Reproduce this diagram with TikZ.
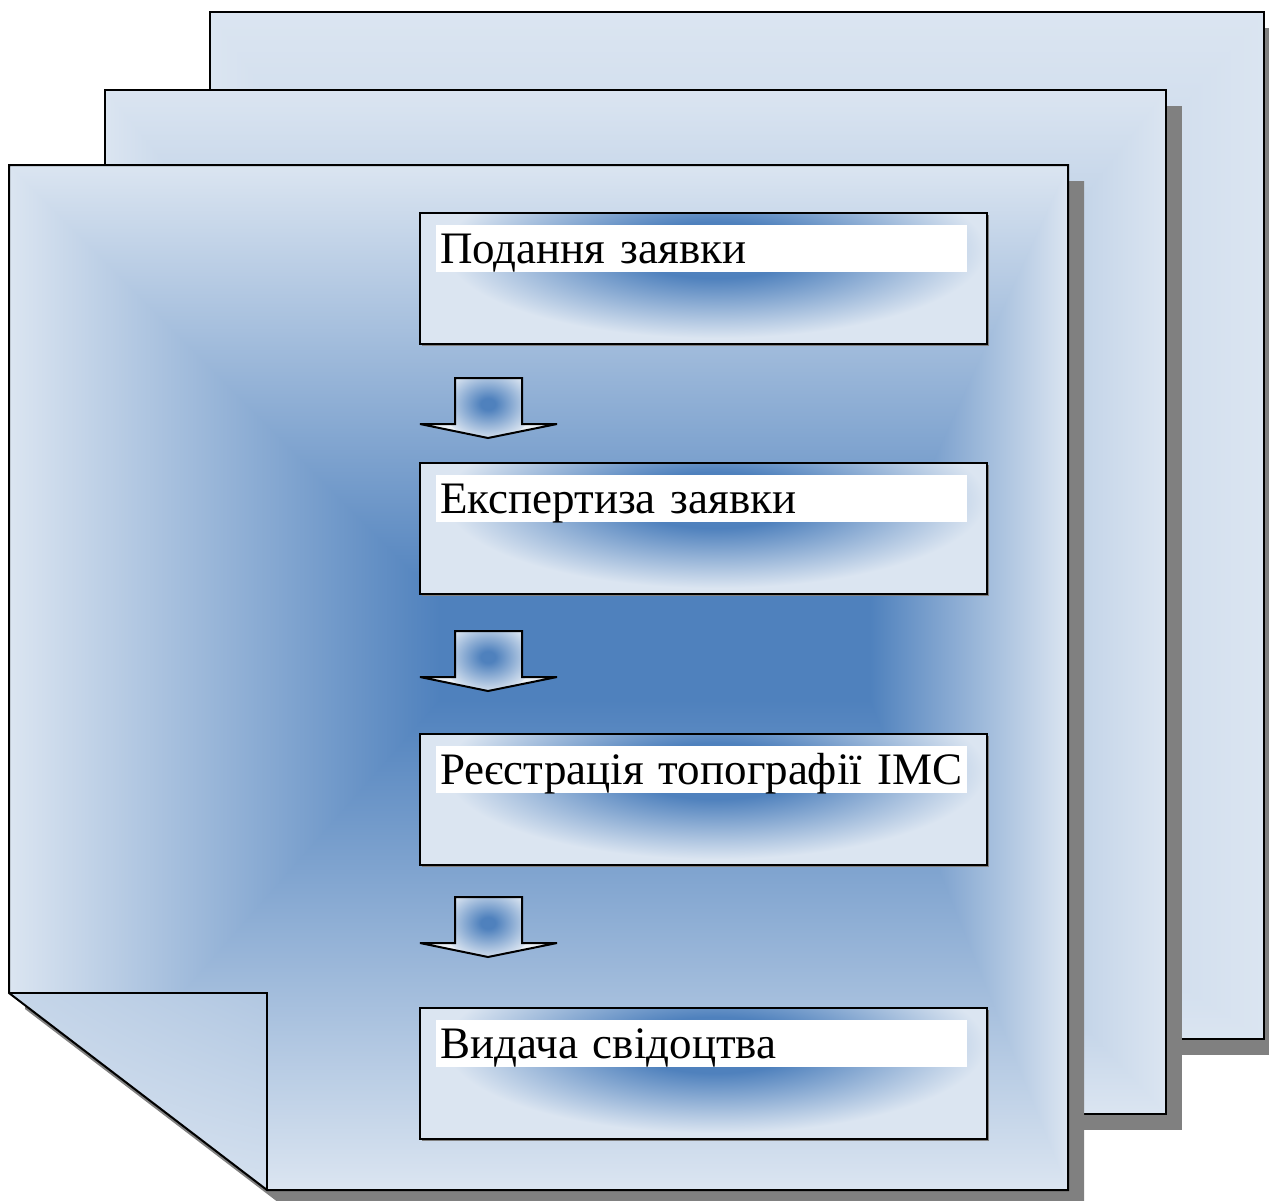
\documentclass[tikz,border=0pt]{standalone}
\usepackage{fontspec}
\setmainfont{Liberation Serif}
\usetikzlibrary{calc,shadings}
\definecolor{lt}{RGB}{219,229,241}
\definecolor{dk}{RGB}{79,129,189}
\definecolor{shd}{RGB}{128,128,128}
\pgfdeclareradialshading{boxglow}{\pgfpoint{0bp}{0bp}}{color(0bp)=(dk); color(8bp)=(dk); color(25bp)=(lt); color(50bp)=(lt)}
\pgfdeclareradialshading{arrowglow}{\pgfpoint{0bp}{0bp}}{color(0bp)=(dk); color(4bp)=(dk); color(25bp)=(lt); color(50bp)=(lt)}
% pyramid (rectangular) gradient: outer tl, outer br, inner tl, inner br, dark colour
\newcommand{\pyramidfill}[9]{%
  \fill[#9] (#5,#6) rectangle (#7,#8);
  \shade[left color=lt,middle color=lt!62!#9,right color=#9] (#1,#2) rectangle (#5,#4);
  \shade[left color=#9,middle color=lt!62!#9,right color=lt] (#7,#2) rectangle (#3,#4);
  \shade[top color=lt,middle color=lt!58!#9,bottom color=#9] (#1,#2) -- (#3,#2) -- (#7,#6) -- (#5,#6) -- cycle;
  \shade[top color=#9,middle color=lt!58!#9,bottom color=lt] (#1,#4) -- (#3,#4) -- (#7,#8) -- (#5,#8) -- cycle;
}
\newcommand{\blockarrowpath}[1]{(455,#1) -- (522,#1) -- (522,#1+46) -- (557,#1+46) -- (488,#1+60) -- (420,#1+46) -- (455,#1+46) -- cycle}
\newcommand{\blockarrow}[1]{%
  \begin{scope}
    \clip \blockarrowpath{#1};
    \fill[lt!55!white] (410,#1-5) rectangle (570,#1+65);
    \shade[shading=arrowglow] (488,#1+26) ellipse (46 and 36);
  \end{scope}
  \draw[outline,miter limit=3] \blockarrowpath{#1};
}
\tikzset{
  outline/.style={draw=black,line width=2pt,line join=miter},
  stepbox/.style={fill=lt,minimum width=567pt,minimum height=131pt,anchor=north west,inner sep=0pt,outer sep=0pt},
  lbl/.style={fill=white,anchor=north west,minimum width=531pt,minimum height=47pt,text width=523pt,align=left,inner xsep=4pt,inner ysep=2pt,text height=36pt,text depth=7pt,font=\fontsize{45}{48}\selectfont}
}
\newcommand{\procbox}[3]{% name, top y, text
  \node[stepbox] (#1) at (420,#2) {};
  \begin{scope}
    \clip (#1.north west) rectangle (#1.south east);
    \shade[shading=boxglow] ($(#1.north)+(12,37)$) ellipse (270 and 88);
  \end{scope}
  \fill[shd] ($(#1.north east)+(0,2)$) rectangle ($(#1.south east)+(2,2)$);
  \fill[shd] ($(#1.south west)+(2,0)$) rectangle ($(#1.south east)+(2,2)$);
  \draw[outline] (#1.north west) rectangle (#1.south east);
  \node[lbl] (#1t) at ($(#1.north west)+(16,12)$) {#3};
}
\begin{document}
\begin{tikzpicture}[x=1pt,y=-1pt]
\useasboundingbox (0,0) rectangle (1269,1200);
% back page
\fill[shd] (226,28) rectangle (1285,1055);
\begin{scope}
  \clip (210,12) rectangle (1264,1039);
  \pyramidfill{210}{12}{1264}{1039}{640}{640}{720}{700}{dk!40!lt}
\end{scope}
\draw[outline] (210,12) rectangle (1264,1039);
% middle page
\fill[shd] (121,106) rectangle (1182,1130);
\begin{scope}
  \clip (105,90) rectangle (1166,1114);
  \pyramidfill{105}{90}{1166}{1114}{540}{620}{760}{680}{dk!80!lt}
\end{scope}
\draw[outline] (105,90) rectangle (1166,1114);
% area cut away by the folded corner
\fill[white] (0,980) -- (9,993) -- (267,1190) -- (267,1200) -- (0,1200) -- cycle;
% front page
\fill[shd] (25,181) -- (1084,181) -- (1084,1206) -- (283,1206) -- (25,1009) -- cycle;
\begin{scope}
  \clip (9,165) -- (1068,165) -- (1068,1190) -- (267,1190) -- (9,993) -- cycle;
  \pyramidfill{9}{165}{1068}{1190}{440}{600}{870}{700}{dk}
  \shade[upper left=lt!85!dk, upper right=lt!70!dk, lower left=lt, lower right=lt!95!dk] (9,993) rectangle (267,1190);
\end{scope}
\draw[outline] (9,165) -- (1068,165) -- (1068,1190) -- (267,1190) -- (9,993) -- cycle;
\draw[outline] (9,993) -- (267,993) -- (267,1190);
% process boxes
\procbox{b1}{213}{Подання заявки}
\procbox{b2}{463}{Експертиза заявки}
\procbox{b3}{734}{Реєстрація топографії ІМС}
\procbox{b4}{1008}{Видача свідоцтва}
% block arrows
\blockarrow{378}
\blockarrow{631}
\blockarrow{897}
\end{tikzpicture}
\end{document}
